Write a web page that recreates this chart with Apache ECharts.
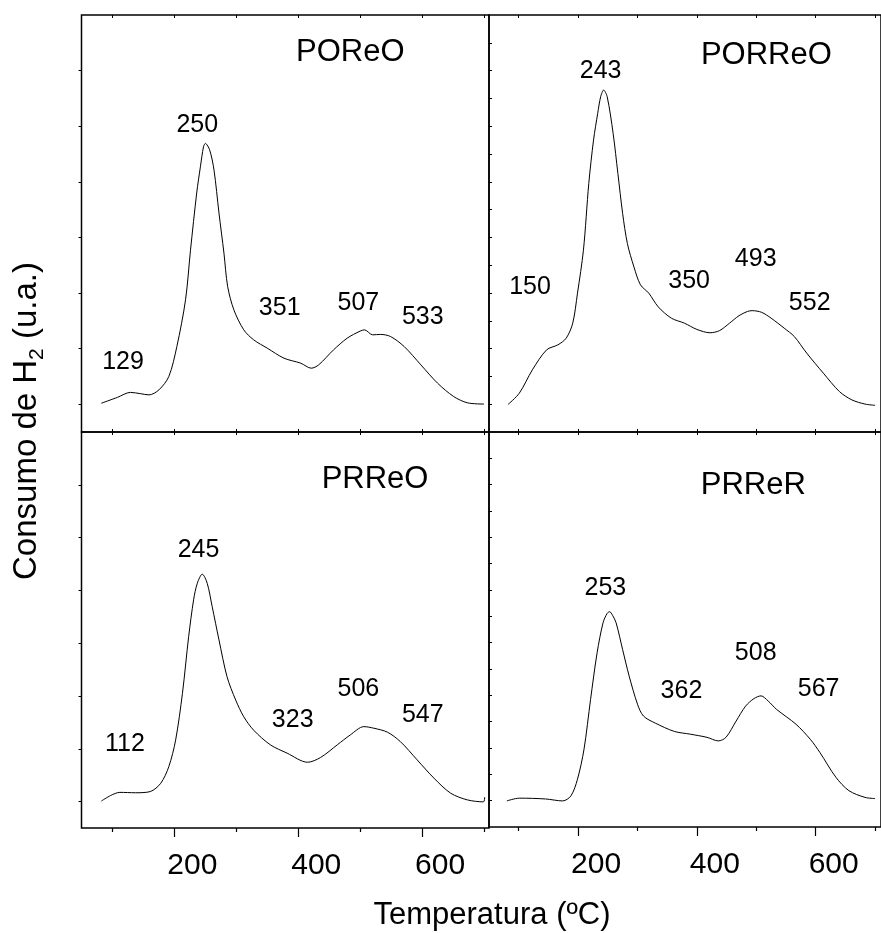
<!DOCTYPE html>
<html>
<head>
<meta charset="utf-8">
<script src="https://cdn.jsdelivr.net/npm/echarts@6/dist/echarts.min.js"></script>
<style>
  html, body { margin: 0; padding: 0; background: #fff; }
  #chart { width: 881px; height: 933px; }
</style>
</head>
<body>
<div id="chart"></div>
<script>
// TPR profiles: H2 consumption (arbitrary units) against temperature (ºC)

const poreoTemp   = [82, 108, 129, 145, 159, 175, 191, 204, 218, 226, 236, 242, 247, 250, 257, 264, 272, 280, 286, 296, 312, 328, 350, 377, 404, 421, 433, 457, 479, 500, 507, 520, 533, 549, 571, 598, 625, 651, 673, 700];
const poreoSignal = [6.9, 8.3, 9.5, 9.2, 8.9, 10.1, 13.3, 20.5, 31.7, 43.6, 57.3, 63.6, 68.4, 69.2, 67.6, 62.8, 52.5, 42.9, 34.9, 29.3, 24.5, 22.1, 20.1, 17.7, 16.5, 15.3, 16.1, 19.7, 22.5, 24.2, 24.5, 23.3, 23.4, 22.9, 20.5, 16.1, 11.7, 8.5, 7.0, 6.7];

const porreoTemp   = [82, 101, 123, 147, 166, 180, 191, 199, 209, 218, 226, 233, 238, 243, 249, 259, 267, 275, 283, 294, 305, 319, 335, 357, 379, 400, 422, 438, 455, 471, 485, 493, 509, 525, 547, 564, 585, 613, 640, 661, 683, 700];
const porreoSignal = [6.6, 9.3, 14.9, 19.7, 20.9, 22.5, 26.1, 33.3, 43.6, 59.6, 70, 76.4, 80.4, 82, 80.4, 71.6, 62, 52.4, 45.2, 39.6, 35.3, 33.3, 30, 27.3, 26.1, 24.6, 23.8, 24.3, 26.1, 27.9, 28.9, 29.1, 28.7, 27.3, 24.9, 22.9, 18.9, 14.1, 9.7, 7.7, 6.7, 6.4];

const prreoTemp   = [82, 97, 112, 137, 161, 178, 191, 202, 213, 223, 231, 237, 245, 253, 261, 272, 285, 299, 312, 328, 355, 382, 415, 436, 463, 484, 506, 522, 544, 565, 592, 619, 646, 673, 699, 701];
const prreoSignal = [6.8, 8.2, 9.0, 8.9, 9.2, 11.3, 15.5, 22.2, 34, 48.3, 57.6, 61.8, 64.1, 61.8, 55.9, 47.5, 38.2, 32.3, 28.1, 24.7, 21, 18.9, 16.6, 17.8, 21, 23.5, 25.6, 25.2, 24.2, 21.8, 17.2, 12.6, 8.8, 7.1, 6.6, 7.8];

const prrerTemp   = [80, 101, 145, 174, 188, 199, 210, 221, 232, 242, 249, 253, 258, 264, 275, 286, 300, 310, 330, 362, 389, 417, 436, 449, 466, 482, 496, 508, 520, 534, 567, 591, 607, 634, 656, 683, 700];
const prrerSignal = [6.6, 7.3, 7.1, 6.6, 7.9, 12.1, 19.7, 32.3, 44.1, 51.7, 54.1, 54.5, 53.6, 51.7, 44.9, 38.2, 31.1, 28.1, 26.3, 24.2, 23.5, 22.7, 21.8, 22.7, 26.8, 30.6, 32.5, 33.2, 31.9, 29.8, 26, 22.2, 18.9, 12.6, 9.2, 7.5, 7.2];

// Peak temperatures written on each profile and where each tag sits (temperature, signal)
const poreoPeaks  = [129, 250, 351, 507, 533];
const poreoTagAt  = [[117, 16.7], [237, 73.5], [370, 29.7], [497, 30.9], [601, 27.6]];
const porreoPeaks = [150, 243, 350, 493, 552];
const porreoTagAt = [[119, 34.8], [238, 86.6], [387, 36.3], [499, 41.5], [590, 31.0]];
const prreoPeaks  = [112, 245, 323, 506, 547];
const prreoTagAt  = [[120, 21.2], [239, 70.2], [391, 27.3], [497, 35.1], [601, 28.4]];
const prrerPeaks  = [253, 362, 508, 567];
const prrerTagAt  = [[246, 60.4], [374, 34.3], [499, 43.9], [605, 34.8]];

const sampleNames  = ['POReO', 'PORReO', 'PRReO', 'PRReR'];
const sampleNameAt = [[484, 91], [517, 90.4], [524, 88], [495, 86.4]];

// Axis tick and label values
const tempMajorTicks = [200, 400, 600];
const tempMinorTicks = [100, 300, 500, 700];
const tempAllTicks   = [100, 200, 300, 400, 500, 600, 700];
const tempTickLabels = [200, 400, 600];
const signalTicksWide   = [6.67, 20, 33.33, 46.67, 60, 73.33, 86.67];
const signalTicksNarrow = [6.67, 13.33, 20, 26.67, 33.33, 40, 46.67, 53.33, 60, 66.67, 73.33, 80, 86.67, 93.33];

const FONT = '"Liberation Sans", Arial, Helvetica, sans-serif';

const panels = [
  { temp: poreoTemp,  signal: poreoSignal,  peaks: poreoPeaks,  tagAt: poreoTagAt },
  { temp: porreoTemp, signal: porreoSignal, peaks: porreoPeaks, tagAt: porreoTagAt },
  { temp: prreoTemp,  signal: prreoSignal,  peaks: prreoPeaks,  tagAt: prreoTagAt },
  { temp: prrerTemp,  signal: prrerSignal,  peaks: prrerPeaks,  tagAt: prrerTagAt }
];

// 2 x 2 layout; the right column runs slightly past the page edge
const gridBoxes = [
  { left: 81.5, top: 15,  width: 407.5, height: 417, xMax: 708, right: false, bottom: false },
  { left: 489,  top: 15,  width: 404,   height: 417, xMax: 710, right: true,  bottom: false },
  { left: 81.5, top: 432, width: 407.5, height: 396, xMax: 708, right: false, bottom: true },
  { left: 489,  top: 432, width: 404,   height: 395, xMax: 710, right: true,  bottom: true }
];

const grid = [], xAxis = [], yAxis = [], series = [];

gridBoxes.forEach((g, i) => {
  grid.push({
    left: g.left, top: g.top, width: g.width, height: g.height,
    show: true, borderColor: '#000', borderWidth: 1.5, backgroundColor: 'transparent'
  });

  const base = {
    gridIndex: i, type: 'value', min: 50, max: g.xMax,
    axisLine: { show: false }, splitLine: { show: false }
  };

  const mainIndex = xAxis.length;
  if (g.bottom) {
    xAxis.push(Object.assign({}, base, {
      position: 'bottom',
      axisTick: { show: true, customValues: tempMajorTicks, length: 9, lineStyle: { color: '#000', width: 1.2 } },
      axisLabel: {
        show: true, customValues: tempTickLabels, color: '#000', fontFamily: FONT,
        fontSize: 30, margin: 23, padding: [0, 0, 0, 36]
      }
    }));
    xAxis.push(Object.assign({}, base, {
      position: 'bottom',
      axisTick: { show: true, customValues: tempMinorTicks, length: 4, lineStyle: { color: '#000', width: 1.2 } },
      axisLabel: { show: false }
    }));
  } else {
    xAxis.push(Object.assign({}, base, {
      position: 'bottom',
      axisTick: { show: true, inside: true, customValues: tempAllTicks, length: 3, lineStyle: { color: '#000', width: 1 } },
      axisLabel: { show: false }
    }));
  }
  xAxis.push(Object.assign({}, base, {
    position: 'top',
    axisTick: { show: true, inside: true, customValues: tempAllTicks, length: 3, lineStyle: { color: '#000', width: 1 } },
    axisLabel: { show: false }
  }));

  yAxis.push({
    gridIndex: i, type: 'value', min: 0, max: 100,
    axisLine: { show: false }, splitLine: { show: false }, axisLabel: { show: false },
    axisTick: {
      show: true, inside: g.right, length: 3,
      customValues: g.right ? signalTicksNarrow : signalTicksWide,
      lineStyle: { color: '#000', width: 1 }
    }
  });

  const p = panels[i];
  series.push({
    type: 'line', xAxisIndex: mainIndex, yAxisIndex: i,
    data: p.temp.map((t, k) => [t, p.signal[k]]),
    smooth: 0.3, symbol: 'none', silent: true,
    lineStyle: { color: '#000', width: 1 }
  });

  // Peak and sample tags, drawn as labels on invisible points
  const tags = p.peaks.map((pk, k) => ({ name: String(pk), value: p.tagAt[k] }));
  tags.push({ name: sampleNames[i], value: sampleNameAt[i], label: { fontSize: 31 } });
  series.push({
    type: 'scatter', xAxisIndex: mainIndex, yAxisIndex: i,
    data: tags, symbolSize: 0, silent: true,
    itemStyle: { color: 'rgba(0,0,0,0)' },
    label: {
      show: true, position: 'inside', formatter: '{b}',
      color: '#000', opacity: 1, textBorderWidth: 0,
      fontFamily: FONT, fontSize: 25
    },
    labelLayout: { hideOverlap: false }
  });
});

const chart = echarts.init(document.getElementById('chart'), null, { renderer: 'canvas' });
chart.setOption({
  animation: false,
  backgroundColor: '#fff',
  grid, xAxis, yAxis, series,
  graphic: [
    {
      type: 'text', x: 492, y: 915,
      style: {
        text: 'Temperatura (ºC)', fill: '#000', font: '31px ' + FONT,
        align: 'center', verticalAlign: 'middle'
      }
    },
    {
      type: 'text', x: 27, y: 421, rotation: Math.PI / 2,
      style: {
        text: 'Consumo de H{s|2} (u.a.)', fill: '#000', font: '33px ' + FONT,
        align: 'center', verticalAlign: 'middle',
        rich: { s: { fontSize: 21, fontFamily: FONT, fill: '#000', padding: [20, 0, 0, 0] } }
      }
    }
  ]
});
</script>
</body>
</html>
